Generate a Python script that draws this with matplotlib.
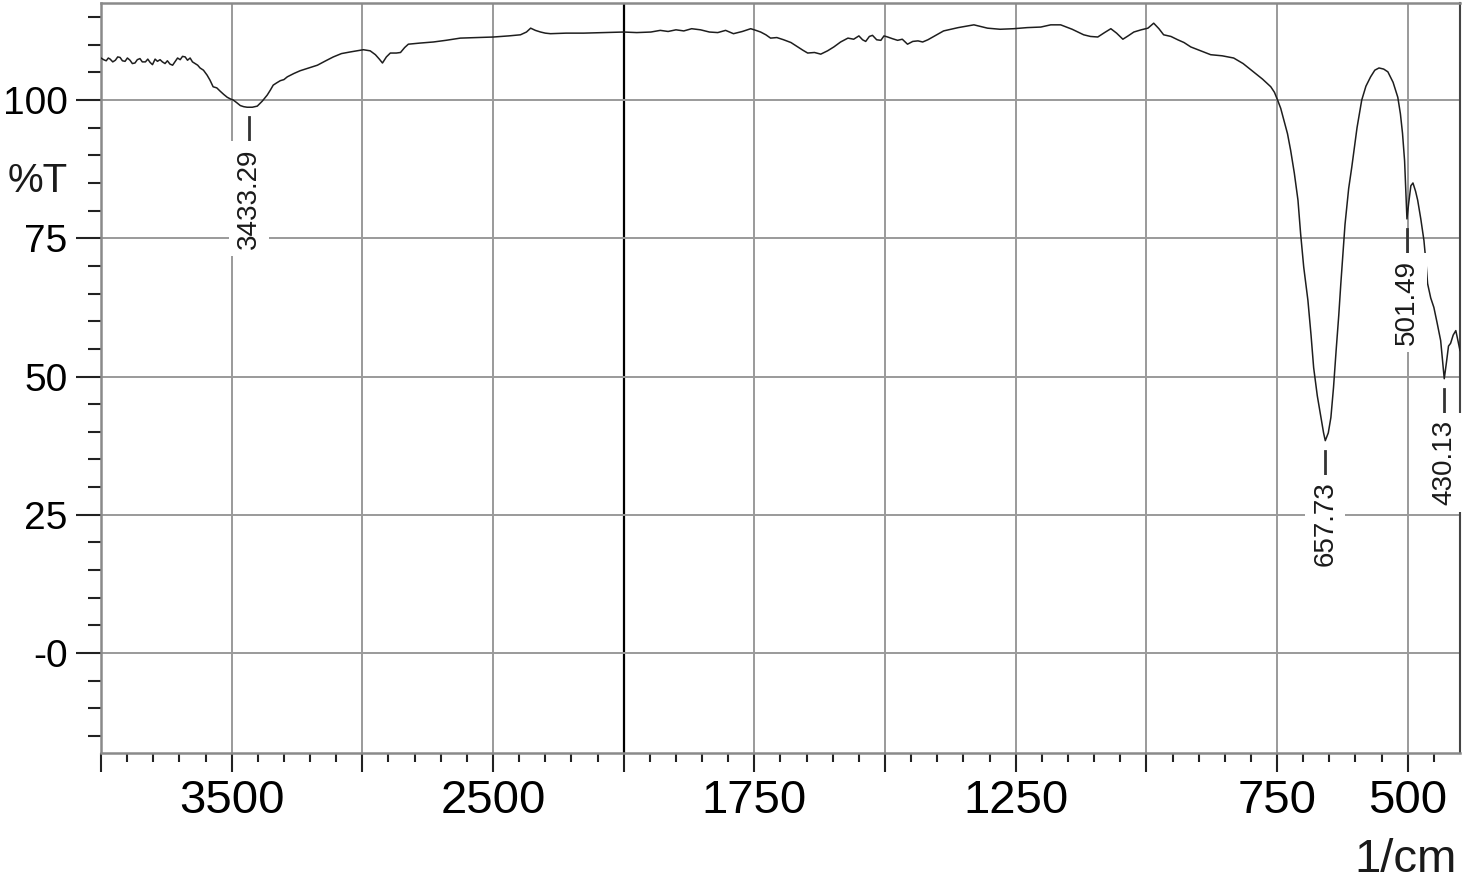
import numpy as np
import matplotlib
matplotlib.use("Agg")
import matplotlib.pyplot as plt

plt.rcParams["font.family"] = ["Liberation Sans", "DejaVu Sans"]

# spectrum (wavenumber in 1/cm, transmittance in %T)
wavenumber = [
    4000, 3990, 3980, 3972, 3965, 3955, 3945, 3936, 3927, 3918, 3908, 3899,
    3889, 3880, 3870, 3861, 3851, 3842, 3830, 3821, 3812, 3803, 3793, 3784,
    3774, 3765, 3755, 3746, 3736, 3726, 3716, 3707, 3697, 3688, 3678, 3669,
    3659, 3650, 3640, 3630, 3621, 3608, 3594, 3583, 3571, 3557, 3544, 3530,
    3517, 3505, 3494, 3480, 3467, 3454, 3441, 3421, 3402, 3383, 3364, 3352,
    3341, 3328, 3314, 3300, 3287, 3262, 3238, 3205, 3172, 3140, 3111, 3080,
    3046, 3020, 2996, 2970, 2950, 2935, 2923, 2908, 2893, 2870, 2854, 2838,
    2824, 2780, 2728, 2680, 2625, 2560, 2498, 2440, 2395, 2372, 2356, 2338,
    2318, 2300, 2280, 2220, 2153, 2080, 2000,
    1975, 1948, 1930, 1915, 1900, 1885, 1870, 1853, 1836, 1820, 1805, 1790,
    1773, 1757, 1747, 1738, 1728, 1719, 1707, 1694, 1680, 1667, 1657, 1648,
    1635, 1623, 1610, 1598, 1585, 1571, 1560, 1550, 1543, 1537, 1530, 1524,
    1516, 1508, 1502, 1495, 1486, 1476, 1467, 1457, 1447, 1437, 1428, 1418,
    1403, 1388, 1360, 1330, 1317, 1304, 1280, 1254, 1228, 1202, 1183, 1164,
    1142, 1120, 1107, 1093, 1080, 1068, 1057, 1045, 1035, 1024, 1010, 997,
    986, 976, 967, 953, 940, 928, 915, 896, 877, 855, 833, 815, 795, 778,
    762, 755, 749, 743, 737, 730, 724, 717, 710, 705, 699, 691, 685, 680,
    673, 666, 661, 657.73, 652, 647, 642, 637, 632, 628, 620, 613, 607, 597,
    588, 580, 571, 563, 555, 546, 538, 528, 519, 514, 510, 506, 504, 501.49,
    498, 494, 490, 485, 481, 475, 469, 465, 462, 456, 450, 444, 437, 433,
    430.13, 426, 422, 418, 413, 408, 404, 400,
]
transmittance = [
    107.6, 107.3, 107.1, 107.6, 107.4, 106.9, 107.2, 107.8, 107.7, 107.1,
    107.0, 107.6, 107.2, 106.6, 106.7, 107.3, 107.5, 106.9, 106.9, 107.4,
    106.8, 106.4, 107.4, 107.0, 107.3, 106.9, 106.6, 107.1, 106.5, 106.3,
    107.0, 107.6, 107.3, 107.9, 107.8, 107.2, 107.6, 106.9, 106.6, 106.3,
    105.8, 105.4, 104.5, 103.6, 102.4, 102.2, 101.6, 101.0, 100.5, 100.2,
    100.0, 99.5, 99.0, 98.8, 98.7, 98.7, 98.9, 99.8, 100.9, 101.8, 102.7,
    103.1, 103.5, 103.7, 104.2, 104.8, 105.3, 105.8, 106.3, 107.1, 107.8,
    108.4, 108.7, 108.9, 109.1, 108.9, 108.2, 107.4, 106.7, 107.8, 108.5,
    108.5, 108.6, 109.5, 110.1, 110.3, 110.5, 110.8, 111.2, 111.3, 111.4,
    111.6, 111.8, 112.3, 113.0, 112.6, 112.3, 112.1, 112.0, 112.1, 112.1,
    112.2, 112.3,
    112.2, 112.3, 112.6, 112.4, 112.7, 112.5, 112.9, 112.7, 112.3, 112.2,
    112.6, 112.0, 112.4, 112.9, 112.6, 112.3, 111.8, 111.2, 111.3, 110.9,
    110.4, 109.6, 109.0, 108.5, 108.6, 108.3, 108.9, 109.6, 110.5, 111.2,
    111.0, 111.6, 110.9, 110.6, 111.5, 111.7, 110.9, 110.8, 111.6, 111.4,
    111.1, 110.8, 111.0, 110.1, 110.6, 110.7, 110.5, 110.9, 111.7, 112.5,
    113.1, 113.6, 113.3, 113.0, 112.8, 112.9, 113.1, 113.2, 113.6, 113.6,
    112.8, 111.8, 111.5, 111.4, 112.2, 112.9, 112.1, 111.0, 111.6, 112.3,
    112.7, 113.0, 113.9, 112.9, 111.8, 111.5, 110.9, 110.4, 109.6, 108.9,
    108.2, 108.0, 107.6, 106.6, 105.1, 103.8, 102.4, 101.4, 100.0, 98.5,
    96.4, 93.9, 90.9, 86.8, 81.9, 75.9, 69.8, 63.8, 57.5, 51.6, 46.5, 42.6,
    39.8, 38.4, 39.8, 42.6, 48.0, 54.7, 61.0, 66.8, 77.5, 84.0, 87.9, 95.0,
    100.0, 102.5, 104.2, 105.4, 105.8, 105.6, 105.1, 103.2, 100.5, 97.5,
    94.0, 89.0, 84.2, 78.5, 81.5, 84.5, 85.0, 83.5, 81.9, 78.5, 74.6, 70.5,
    66.8, 64.2, 62.5, 59.8, 56.5, 52.5, 49.6, 52.5, 55.5, 56.0, 57.5, 58.3,
    56.5, 54.7,
]

# labelled peaks
peak_wn = [3433.29, 657.73, 501.49, 430.13]
peak_t = [98.7, 38.4, 78.5, 49.6]
peak_labels = ["3433.29", "657.73", "501.49", "430.13"]

x_major = [4000, 3500, 3000, 2500, 2000, 1750, 1500, 1250, 1000, 750, 500]
x_labelled = [3500, 2500, 1750, 1250, 750, 500]
y_major = [100, 75, 50, 25, 0]
y_labels = ["100", "75", "50", "25", "-0"]


# IR convention: above 2000 1/cm the axis is compressed by half
def forward(w):
    w = np.asarray(w, dtype=float)
    return np.where(w > 2000, 2000 + (w - 2000) * 0.5, w)


def inverse(u):
    u = np.asarray(u, dtype=float)
    return np.where(u > 2000, 2000 + (u - 2000) * 2.0, u)


fig = plt.figure(figsize=(14.72, 8.83), dpi=100)
ax = fig.add_axes([101 / 1472, 1 - 752.5 / 883, 1359 / 1472, 749.5 / 883])
ax.set_xscale("function", functions=(forward, inverse))
ax.set_xlim(4000, 400)
ax.set_ylim(-18.0, 117.55)

grid_c = "#9a9a9a"
for w in x_major[1:]:
    ax.axvline(w, color="black" if w == 2000 else grid_c,
               lw=1.6 if w == 2000 else 1.4, zorder=1)
for t in y_major:
    ax.axhline(t, color=grid_c, lw=1.4, zorder=1)

ax.plot(wavenumber, transmittance, color="#1e1e1e", lw=1.1, zorder=3)

# peak markers: short tick plus rotated value on a white patch
for w, t, lab in zip(peak_wn, peak_t, peak_labels):
    ax.plot([w, w], [t - 1.8, t - 6.6], color="#333333", lw=2.0, zorder=4)
    ax.text(w, t - 7.4, lab, rotation=90, ha="center", va="top",
            fontsize=20, color="#1a1a1a", zorder=5,
            bbox=dict(boxstyle="square,pad=0.25", fc="white", ec="none"))

# ticks
ax.set_xticks(x_major)
ax.set_xticklabels([str(v) if v in x_labelled else "" for v in x_major])
minor_x = [v for v in list(range(4000, 2000, -100)) + list(range(2000, 400, -50))
           if v not in x_major]
ax.set_xticks(minor_x, minor=True)
ax.set_yticks(y_major)
ax.set_yticklabels(y_labels)
ax.set_yticks([v for v in range(-15, 120, 5) if v not in y_major], minor=True)

ax.tick_params(axis="x", which="major", length=14, width=1.5, color="#222222",
               labelsize=34, pad=5)
ax.tick_params(axis="x", which="minor", length=6.5, width=1.5, color="#222222")
ax.tick_params(axis="y", which="major", length=18, width=1.5, color="#222222",
               labelsize=28, pad=6)
ax.tick_params(axis="y", which="minor", length=9.5, width=1.5, color="#222222")

for side in ["left", "bottom", "top"]:
    ax.spines[side].set_color("#8a8a8a")
    ax.spines[side].set_linewidth(1.8)
ax.spines["right"].set_color("#444444")
ax.spines["right"].set_linewidth(1.5)

fig.text(68 / 1472, 1 - 192 / 883, "%T", ha="right", va="baseline",
         fontsize=29, color="#1a1a1a")
fig.text(1457 / 1472, 1 - 872 / 883, "1/cm", ha="right", va="baseline",
         fontsize=34, color="#1a1a1a")

fig.savefig("out.png", dpi=100)
